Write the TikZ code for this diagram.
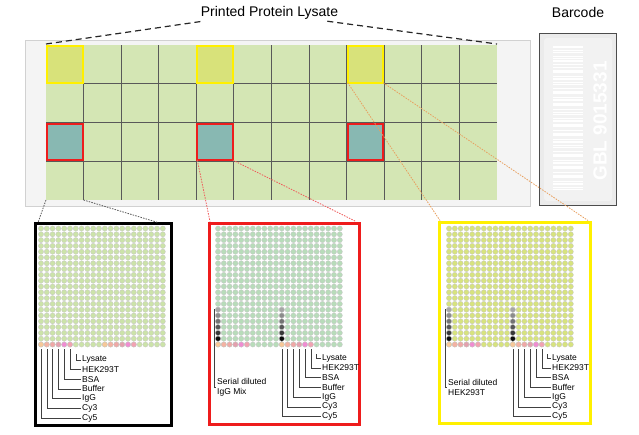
\documentclass[tikz,border=0pt]{standalone}
\usepackage{fontspec}
\setmainfont{Liberation Sans}
\usetikzlibrary{calc}

\definecolor{slidegray}{HTML}{F4F4F4}
\definecolor{cellgreen}{HTML}{D4E6B4}
\definecolor{cellyellow}{HTML}{D8E27A}
\definecolor{cellteal}{HTML}{88B8B2}
\definecolor{markyellow}{HTML}{FFF000}
\definecolor{markred}{HTML}{EE1C1C}
\definecolor{linkorange}{HTML}{E8A060}
\definecolor{linkred}{HTML}{F05A5A}
\definecolor{spotgreen}{HTML}{CCE3A9}
\definecolor{spotmint}{HTML}{B8DCBA}
\definecolor{spotlime}{HTML}{D7E37E}
\definecolor{cyfive}{HTML}{F7C898}
\definecolor{cythree}{HTML}{F4B2A2}
\definecolor{igg}{HTML}{F0A8A6}
\definecolor{buffer}{HTML}{E4A0AE}
\definecolor{bsa}{HTML}{F08CD2}
\definecolor{hek}{HTML}{F2A2B2}

\tikzset{
  title/.style={font=\fontsize{14}{16}\selectfont, inner sep=2pt},
  keytext/.style={font=\fontsize{8.5}{10}\selectfont, inner sep=1pt, anchor=west},
  keyline/.style={draw=black!75, line width=0.6pt},
  spot/.style={draw=black!22, line width=0.3pt},
  gridline/.style={draw=black!65, line width=0.9pt},
  plaincell/.style={minimum width=37.58pt, minimum height=38.75pt, inner sep=0pt, outer sep=0pt},
  yelcell/.style={draw=markyellow, fill=cellyellow, line width=2pt, minimum width=35.5pt, minimum height=36.7pt, inner sep=0pt, outer sep=0pt},
  redcell/.style={draw=markred, fill=cellteal, line width=2pt, minimum width=35.5pt, minimum height=36.7pt, inner sep=0pt, outer sep=0pt},
  panelbox/.style={line width=3pt, inner sep=0pt, outer sep=0pt, fill=white},
  titledash/.style={draw=black!85, line width=1.2pt, dash pattern=on 6pt off 4pt},
  zoomlink/.style={line width=0.8pt, dash pattern=on 1.5pt off 1.2pt},
}

% spots of one printed pad: #1 = x of first column, #2 = spot colour
\newcommand{\spotfield}[2]{%
  \foreach \i in {0,...,21}{
    \foreach \j in {0,...,20}{
      \filldraw[spot, fill=#2] ({#1+5.8*\i},{228.5+5.8*\j}) circle (2.6pt);
    }
  }
  % control spots in the bottom row
  \foreach \g in {0,11}{
    \foreach \k/\spotcol in {0/cyfive,1/cythree,2/igg,3/buffer,4/bsa,5/hek}{
      \filldraw[spot, fill=\spotcol] ({#1+5.8*(\g+\k)},344.5) circle (2.6pt);
    }
  }
}

% grey dilution series above the controls
\newcommand{\dilution}[1]{%
  \foreach \g in {0,11}{
    \foreach \k/\shade in {0/35,1/45,2/55,3/66,4/78,5/95}{
      \filldraw[spot, fill=black!\shade] ({#1+5.8*\g},{228.5+5.8*(14+\k)}) circle (2.6pt);
    }
  }
}

% bracket for the dilution series: #1 = name, #2 = x of first column, #3 = second line
\newcommand{\dilutionkey}[3]{%
  \node[keytext, align=left] (#1-dil) at ({#2-2},387) {Serial diluted\\#3};
  \coordinate (#1-diltop) at ({#2-4},309);
  \draw[keyline] (#1-diltop) |- (#1-dil.west);
}

% leader lines: #1 = name, #2 = x of first control spot, #3 = x of texts, #4 = y of lowest text
\newcommand{\spotkey}[4]{%
  \foreach \k/\txt in {0/Cy5,1/Cy3,2/IgG,3/Buffer,4/BSA,5/HEK293T,6/Lysate}{
    \node[keytext] (#1-\k) at (#3,{#4-9.7*\k}) {\txt};
    \coordinate (#1-\k-top) at ({#2+5.8*\k},{\k==6 ? 354 : 349});
    \draw[keyline] (#1-\k-top) |- (#1-\k.west);
  }
}

\begin{document}
\begin{tikzpicture}[x=1pt, y=-1pt]
	\useasboundingbox (0,0) rectangle (639,434);
	\fill[white] (0,0) rectangle (639,434);
	% titles
	\node[title] (lysatetitle) at (269.5,12.5) {Printed Protein Lysate};
	\node[title] (barcodetitle) at (578,12.5) {Barcode};
	% glass slide with the pads
	\draw[black!18, fill=slidegray, line width=1pt] (25,40) rectangle (530,206);
	\fill[cellgreen] (46,45) rectangle (497,200);
	\foreach \c in {1,...,11}
		\draw[gridline] ({46+37.58*\c},45) -- ({46+37.58*\c},200);
	\foreach \r in {1,2,3}
		\draw[gridline] (46,{45+38.75*\r}) -- (497,{45+38.75*\r});
	\coordinate (gridnw) at (46,44);
	\coordinate (gridne) at (497,44);
	% marked pads
	\foreach \c/\n in {0/1,4/2,8/3}{
		\node[yelcell] (yel\n) at ({46+37.58*(\c+0.5)},{45+38.75*0.5}) {};
		\node[redcell] (red\n) at ({46+37.58*(\c+0.5)},{45+38.75*2.5}) {};
	}
	\node[plaincell] (blkcell) at ({46+37.58*0.5},{45+38.75*3.5}) {};
	% dashed lines to the title
	\draw[titledash] (gridnw) -- ($(lysatetitle.south west)+(4,0)$);
	\draw[titledash] ($(lysatetitle.south east)+(-13,0)$) -- (gridne);
	% barcode
	\draw[black!70, fill=black!8, line width=1.3pt] (539.5,33.5) rectangle (616.5,205.5);
	\fill[black!5, rounded corners=3pt] (544,38) rectangle (612,201);
	\foreach \by/\bw in {47/1.2,50/0.6,52.5/1.5,56/0.6,58/0.8,61/1.6,64.5/0.6,67/1.0,70/0.6,72/1.8,76/0.7,79/1.2,82/0.6,84.5/1.4,88/0.8,91/0.6,93/1.6,97/0.7,100/1.2,103/0.6,105/1.8,109/0.8,112/0.6,114.5/1.4,118/0.7,121/1.2,124/0.6,126/1.6,130/0.8,133/0.6,135/1.5,139/0.7,142/1.2,145/0.6,147.5/1.6,151/0.8,154/0.6,156/1.4,160/0.7,163/1.2,166/0.6,168/1.7,172/0.8,175/0.6,177/1.4,181/0.7,184/1.2,187/0.6,189.5/1.4}
		\draw[white, line width=\bw pt] (553,\by) -- (583,\by);
	\node[rotate=90, text=white, font=\bfseries\fontsize{19}{19}\selectfont] (barcodeno) at (600,121) {GBL 9015331};
	% zoomed pads
	\node[panelbox, draw=black, minimum width=136pt, minimum height=202pt] (blkpanel) at (103.5,324.5) {};
	\node[panelbox, draw=markred, minimum width=150pt, minimum height=201pt] (redpanel) at (284.5,324) {};
	\node[panelbox, draw=markyellow, minimum width=151pt, minimum height=201pt] (ylwpanel) at (515,323) {};
	\coordinate (blk-a) at (38,222.5);
	\coordinate (blk-b) at (158,222.5);
	\coordinate (red-a) at (210,221.5);
	\coordinate (red-b) at (356,221.5);
	\coordinate (ylw-a) at (440,220.5);
	\coordinate (ylw-b) at (588,220.5);
	% links from slide to zoomed pads
	\draw[zoomlink, black!65] (blkcell.south west) -- (blk-a);
	\draw[zoomlink, black!65] (blkcell.south east) -- (blk-b);
	\draw[zoomlink, linkred] (red2.south west) -- (red-a);
	\draw[zoomlink, linkred] (red2.south east) -- (red-b);
	\draw[zoomlink, linkorange] (yel3.south west) -- (ylw-a);
	\draw[zoomlink, linkorange] (yel3.south east) -- (ylw-b);
	% spots
	\spotfield{41}{spotgreen}
	\spotfield{218}{spotmint}
	\spotfield{449}{spotlime}
	\dilution{218}
	\dilution{449}
	% keys
	\spotkey{blk}{41}{81}{418}
	\spotkey{red}{281.8}{321}{416.5}
	\spotkey{ylw}{512.8}{551}{416.5}
	\dilutionkey{red}{218}{IgG Mix}
	\dilutionkey{ylw}{449}{HEK293T}
\end{tikzpicture}
\end{document}
